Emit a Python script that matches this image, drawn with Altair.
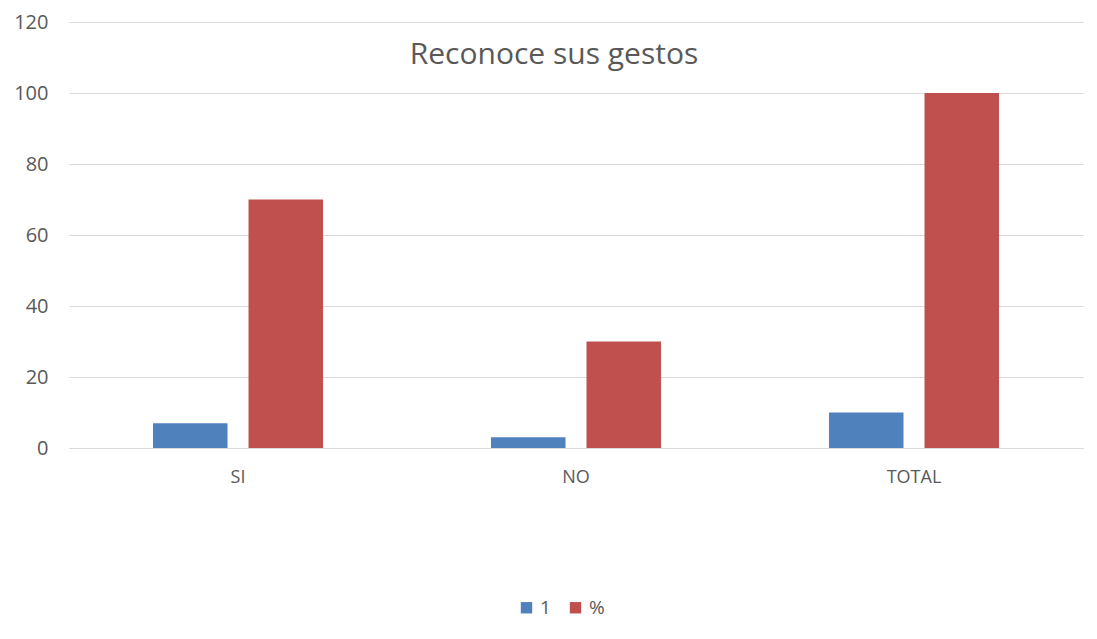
import altair as alt
import pandas as pd

categories = ["SI", "NO", "TOTAL"]
series_names = ["1", "%"]
values_1 = [7, 3, 10]
values_pct = [70, 30, 100]
y_ticks = [0, 20, 40, 60, 80, 100, 120]

rows = []
for i, c in enumerate(categories):
    rows.append({"cat": c, "serie": series_names[0], "val": values_1[i]})
    rows.append({"cat": c, "serie": series_names[1], "val": values_pct[i]})
df = pd.DataFrame(rows)

FONT = "Open Sans"
GRAY = "#595959"
GRID = "#d9d9d9"

chart = alt.Chart(df).mark_bar().encode(
    x=alt.X("cat:N", sort=categories, title=None,
            scale=alt.Scale(paddingInner=0.497, paddingOuter=0.2485),
            axis=alt.Axis(labelAngle=0, ticks=False, tickSize=0, labelPadding=20,
                          labelFontSize=18, labelColor=GRAY, labelFont=FONT,
                          domainColor=GRID, domainWidth=1, grid=False)),
    xOffset=alt.XOffset("serie:N", sort=series_names,
                        scale=alt.Scale(paddingInner=0.22, paddingOuter=0)),
    y=alt.Y("val:Q", title=None, scale=alt.Scale(domain=[0, 120]),
            axis=alt.Axis(values=y_ticks, ticks=False, tickSize=0, domain=False,
                          labelPadding=21, labelFontSize=20, labelColor=GRAY,
                          labelFont=FONT, gridColor=GRID, gridWidth=1)),
    color=alt.Color("serie:N", sort=series_names,
                    scale=alt.Scale(domain=series_names, range=["#4F81BD", "#C0504D"]),
                    legend=alt.Legend(title=None, orient="none", direction="horizontal",
                                      legendX=448, legendY=576,
                                      symbolType="square", symbolSize=130,
                                      symbolStrokeWidth=0, labelFontSize=19,
                                      labelColor=GRAY, labelFont=FONT,
                                      columnPadding=15)),
).properties(
    width=1014,
    height=426,
    padding={"left": 5, "top": 4, "right": 5, "bottom": 5},
    title=alt.TitleParams("Reconoce sus gestos", fontSize=30, font=FONT,
                          fontWeight="normal", color=GRAY, offset=-58,
                          anchor="middle", dx=-22),
).configure(background="white").configure_view(stroke=None)

chart.save("out.html", embed_options={"renderer": "svg", "actions": False})
